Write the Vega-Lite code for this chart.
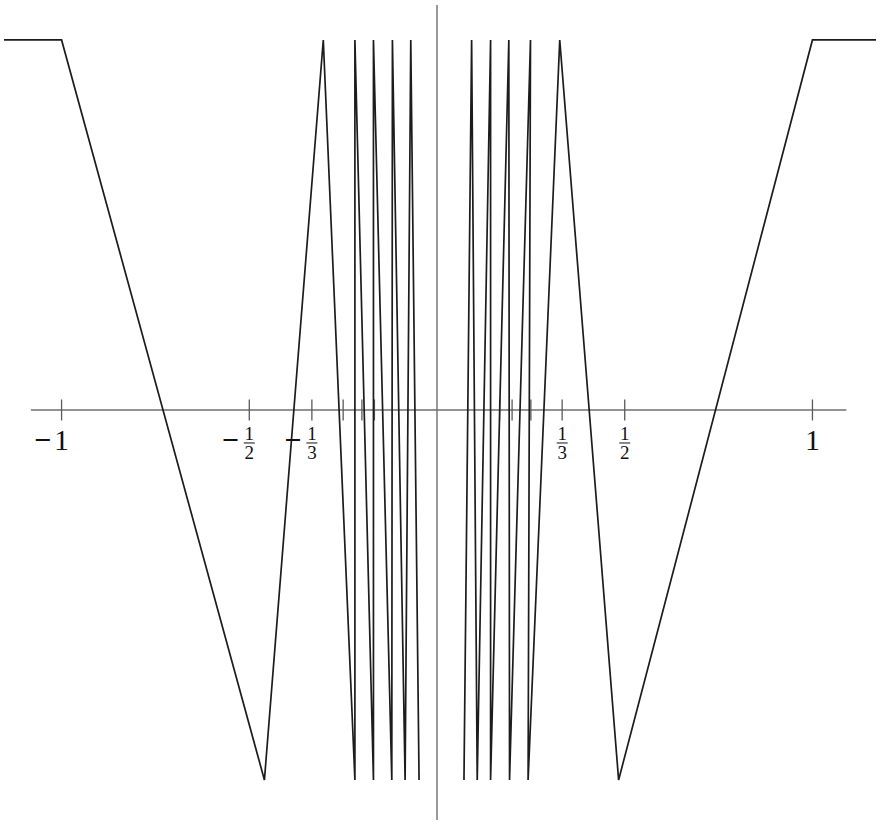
{
  "$schema": "https://vega.github.io/schema/vega-lite/v6.json",
  "width": 880,
  "height": 824,
  "padding": 0,
  "autosize": {"type": "fit", "contains": "padding"},
  "background": "white",
  "config": {"view": {"stroke": null}},
  "datasets": {
    "axes": [
      {"x": -1.0816, "y": 0, "x2": 1.0903, "y2": 0},
      {"x": 0, "y": -1.108, "x2": 0, "y2": 1.0946}
    ],
    "ticks": [
      {"x": -1, "y": 0}, {"x": -0.5, "y": 0}, {"x": -0.3333, "y": 0},
      {"x": -0.25, "y": 0}, {"x": -0.2, "y": 0}, {"x": -0.1667, "y": 0},
      {"x": 0.1667, "y": 0}, {"x": 0.2, "y": 0}, {"x": 0.25, "y": 0},
      {"x": 0.3333, "y": 0}, {"x": 0.5, "y": 0}, {"x": 1, "y": 0}
    ],
    "labels": [
      {"x": -1, "y": 0, "kind": "int", "neg": true, "num": "1", "den": ""},
      {"x": -0.5, "y": 0, "kind": "frac", "neg": true, "num": "1", "den": "2"},
      {"x": -0.3333, "y": 0, "kind": "frac", "neg": true, "num": "1", "den": "3"},
      {"x": 0.3333, "y": 0, "kind": "frac", "neg": false, "num": "1", "den": "3"},
      {"x": 0.5, "y": 0, "kind": "frac", "neg": false, "num": "1", "den": "2"},
      {"x": 1, "y": 0, "kind": "int", "neg": false, "num": "1", "den": ""}
    ],
    "zigzag": [
      {"side": "L", "i": 0, "x": -1.1533, "y": 1},
      {"side": "L", "i": 1, "x": -1, "y": 1},
      {"side": "L", "i": 2, "x": -0.4597, "y": -1},
      {"side": "L", "i": 3, "x": -0.3029, "y": 1},
      {"side": "L", "i": 4, "x": -0.2187, "y": -1},
      {"side": "L", "i": 5, "x": -0.2187, "y": 1},
      {"side": "L", "i": 6, "x": -0.1693, "y": -1},
      {"side": "L", "i": 7, "x": -0.1693, "y": 1},
      {"side": "L", "i": 8, "x": -0.1204, "y": -1},
      {"side": "L", "i": 9, "x": -0.1188, "y": 1},
      {"side": "L", "i": 10, "x": -0.085, "y": -1},
      {"side": "L", "i": 11, "x": -0.0699, "y": 1},
      {"side": "L", "i": 12, "x": -0.0478, "y": -1},
      {"side": "R", "i": 0, "x": 0.0718, "y": -1},
      {"side": "R", "i": 1, "x": 0.0922, "y": 1},
      {"side": "R", "i": 2, "x": 0.1071, "y": -1},
      {"side": "R", "i": 3, "x": 0.1427, "y": 1},
      {"side": "R", "i": 4, "x": 0.1427, "y": -1},
      {"side": "R", "i": 5, "x": 0.1913, "y": 1},
      {"side": "R", "i": 6, "x": 0.1932, "y": -1},
      {"side": "R", "i": 7, "x": 0.249, "y": 1},
      {"side": "R", "i": 8, "x": 0.2426, "y": -1},
      {"side": "R", "i": 9, "x": 0.3269, "y": 1},
      {"side": "R", "i": 10, "x": 0.4837, "y": -1},
      {"side": "R", "i": 11, "x": 1, "y": 1},
      {"side": "R", "i": 12, "x": 1.1693, "y": 1}
    ]
  },
  "encoding": {
    "x": {"field": "x", "type": "quantitative", "axis": null,
          "scale": {"domain": [-1.164, 1.1746], "nice": false, "zero": false}},
    "y": {"field": "y", "type": "quantitative", "axis": null,
          "scale": {"domain": [-1.119, 1.108], "nice": false, "zero": false}}
  },
  "layer": [
    {
      "data": {"name": "axes"},
      "mark": {"type": "rule", "stroke": "#6f6f6f", "strokeWidth": 1.4},
      "encoding": {
        "x2": {"field": "x2"},
        "y2": {"field": "y2"}
      }
    },
    {
      "data": {"name": "ticks"},
      "mark": {"type": "tick", "orient": "vertical", "size": 21, "thickness": 1.3, "color": "#5a5a5a", "opacity": 1}
    },
    {
      "data": {"name": "zigzag"},
      "mark": {"type": "line", "stroke": "#1c1c1c", "strokeWidth": 1.7},
      "encoding": {
        "detail": {"field": "side"},
        "order": {"field": "i", "type": "quantitative"}
      }
    },
    {
      "data": {"name": "labels"},
      "transform": [{"filter": "datum.kind === 'int'"}],
      "mark": {"type": "text", "font": "Liberation Serif", "fontSize": 30, "align": "center", "baseline": "alphabetic", "dy": 40, "color": "#111"},
      "encoding": {"text": {"field": "num"}}
    },
    {
      "data": {"name": "labels"},
      "transform": [{"filter": "datum.kind === 'int' && datum.neg"}],
      "mark": {"type": "text", "font": "Liberation Serif", "fontSize": 30, "fontWeight": "bold", "align": "center", "baseline": "alphabetic", "dy": 40, "dx": -19, "color": "#111"},
      "encoding": {"text": {"value": "−"}}
    },
    {
      "data": {"name": "labels"},
      "transform": [{"filter": "datum.kind === 'frac' && datum.neg"}],
      "mark": {"type": "text", "font": "Liberation Serif", "fontSize": 30, "fontWeight": "bold", "align": "center", "baseline": "alphabetic", "dy": 40, "dx": -19, "color": "#111"},
      "encoding": {"text": {"value": "−"}}
    },
    {
      "data": {"name": "labels"},
      "transform": [{"filter": "datum.kind === 'frac'"}],
      "mark": {"type": "text", "font": "Liberation Serif", "fontSize": 19, "align": "center", "baseline": "alphabetic", "dy": 30, "color": "#111"},
      "encoding": {"text": {"field": "num"}}
    },
    {
      "data": {"name": "labels"},
      "transform": [{"filter": "datum.kind === 'frac'"}],
      "mark": {"type": "text", "font": "Liberation Serif", "fontSize": 19, "align": "center", "baseline": "alphabetic", "dy": 49, "color": "#111"},
      "encoding": {"text": {"field": "den"}}
    },
    {
      "data": {"name": "labels"},
      "transform": [{"filter": "datum.kind === 'frac'"}],
      "mark": {"type": "tick", "orient": "horizontal", "size": 11, "thickness": 1, "yOffset": 33, "color": "#111", "opacity": 1}
    }
  ]
}
